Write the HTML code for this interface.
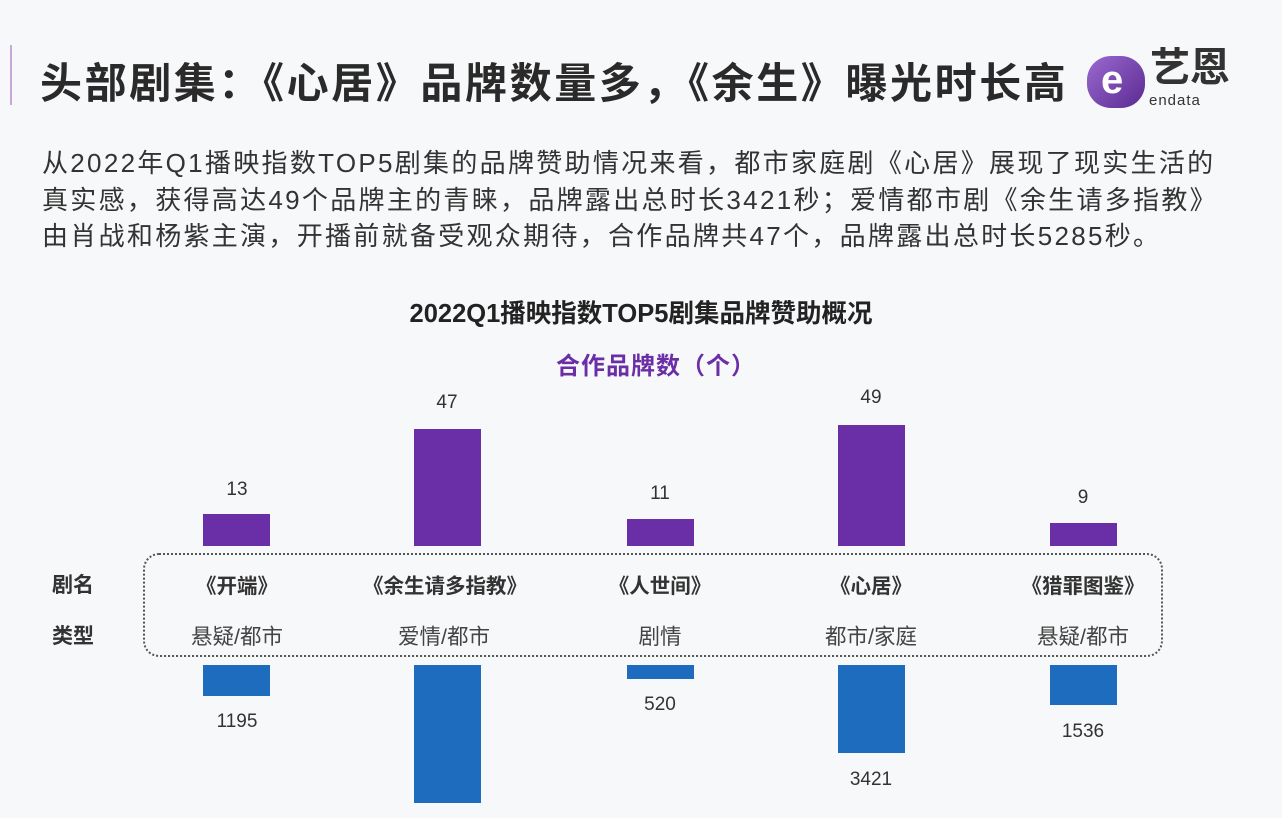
<!DOCTYPE html>
<html><head><meta charset="utf-8"><style>
body{margin:0;width:1282px;height:832px;background:#f7f8fa;overflow:hidden;position:relative;font-family:"Liberation Sans","Noto Sans CJK SC",sans-serif;color:#222}
.a{position:absolute;white-space:nowrap}
.t{left:40px;top:50px;font-size:42px;font-weight:bold;color:#2a2a2a;letter-spacing:2.6px}
.p{left:42px;font-size:26px;color:#333;letter-spacing:2.3px}
.c{text-align:center;transform:translateX(-50%)}
.pb{position:absolute;background:#6a2ea6;width:67px}
.bb{position:absolute;background:#1d6cbd;width:67px;top:665px}
.n{font-size:19px;color:#333}
.nm{font-size:20.5px;font-weight:bold;color:#333;top:569px}
.ty{font-size:21.5px;color:#444;top:620px}
</style></head><body>
<div class="a" style="left:10px;top:45px;width:2px;height:60px;background:#c8a8d8"></div>
<div class="a t">头部剧集：《心居》品牌数量多，《余生》曝光时长高</div>
<div class="a" style="left:1087px;top:56px;width:58px;height:52px;border-radius:24px;background:linear-gradient(135deg,#9b6ad0,#5a2a92)"></div>
<div class="a" style="left:1101px;top:58px;font-size:40px;font-weight:bold;color:#fff">e</div>
<div class="a" style="left:1150px;top:44px;font-size:40px;line-height:48px;font-weight:bold;color:#333">艺恩</div>
<div class="a" style="left:1149px;top:93px;font-size:15px;line-height:16px;color:#333;letter-spacing:1px">endata</div>
<div class="a p" style="top:143px">从2022年Q1播映指数TOP5剧集的品牌赞助情况来看，都市家庭剧《心居》展现了现实生活的</div>
<div class="a p" style="top:180px">真实感，获得高达49个品牌主的青睐，品牌露出总时长3421秒；爱情都市剧《余生请多指教》</div>
<div class="a p" style="top:216px">由肖战和杨紫主演，开播前就备受观众期待，合作品牌共47个，品牌露出总时长5285秒。</div>
<div class="a c" style="left:641px;top:293px;font-size:25.5px;font-weight:bold;color:#222">2022Q1播映指数TOP5剧集品牌赞助概况</div>
<div class="a c" style="left:656px;top:346px;font-size:24px;font-weight:bold;color:#6a2ea6;letter-spacing:1px">合作品牌数（个）</div>
<div class="pb" style="left:203px;top:514px;height:32px"></div>
<div class="pb" style="left:414px;top:429px;height:117px"></div>
<div class="pb" style="left:627px;top:519px;height:27px"></div>
<div class="pb" style="left:838px;top:425px;height:121px"></div>
<div class="pb" style="left:1050px;top:523px;height:23px"></div>
<div class="a c n" style="left:237px;top:479px">13</div>
<div class="a c n" style="left:447px;top:392px">47</div>
<div class="a c n" style="left:660px;top:483px">11</div>
<div class="a c n" style="left:871px;top:387px">49</div>
<div class="a c n" style="left:1083px;top:487px">9</div>
<div class="a" style="left:143px;top:553px;width:1016px;height:100px;border:2px dotted #555;border-radius:16px"></div>
<div class="a nm" style="left:52px;font-size:21px">剧名</div>
<div class="a" style="left:52px;top:620px;font-size:21px;font-weight:bold;color:#333">类型</div>
<div class="a c nm" style="left:237px">《开端》</div>
<div class="a c nm" style="left:445px">《余生请多指教》</div>
<div class="a c nm" style="left:660px">《人世间》</div>
<div class="a c nm" style="left:871px">《心居》</div>
<div class="a c nm" style="left:1083px">《猎罪图鉴》</div>
<div class="a c ty" style="left:237px">悬疑/都市</div>
<div class="a c ty" style="left:444px">爱情/都市</div>
<div class="a c ty" style="left:660px">剧情</div>
<div class="a c ty" style="left:871px">都市/家庭</div>
<div class="a c ty" style="left:1083px">悬疑/都市</div>
<div class="bb" style="left:203px;height:31px"></div>
<div class="bb" style="left:414px;height:138px"></div>
<div class="bb" style="left:627px;height:14px"></div>
<div class="bb" style="left:838px;height:88px"></div>
<div class="bb" style="left:1050px;height:40px"></div>
<div class="a c n" style="left:237px;top:711px">1195</div>
<div class="a c n" style="left:660px;top:694px">520</div>
<div class="a c n" style="left:871px;top:769px">3421</div>
<div class="a c n" style="left:1083px;top:721px">1536</div>
<div class="a" style="left:0;top:818px;width:1282px;height:14px;background:#fff"></div>
</body></html>
